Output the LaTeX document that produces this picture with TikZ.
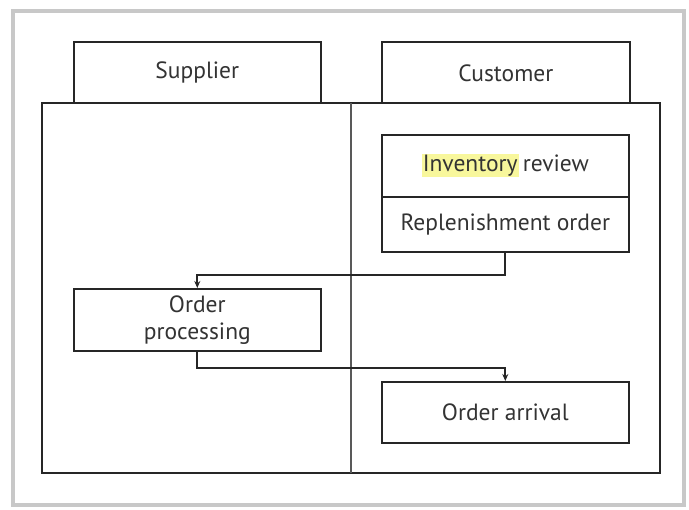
\documentclass[tikz,border=0pt]{standalone}
\usepackage{fontspec}
\usetikzlibrary{arrows.meta}
\setmainfont{PT Sans}
\definecolor{frame}{HTML}{C8C8C8}
\definecolor{hl}{HTML}{F8F79C}
\begin{document}
\begin{tikzpicture}[x=1pt,y=-1pt,
  box/.style={draw=black!85,line width=1.6pt,fill=white,align=center,text=black!80,font=\fontsize{23.5}{27}\selectfont},
  conn/.style={draw=black!85,line width=2pt,-{Stealth[length=7pt,width=6pt]}}]
\useasboundingbox (0,0) rectangle (689,510);
\fill[white] (0,0) rectangle (689,510);
\draw[frame,line width=3.5pt] (13,11) rectangle (684,505);
% tabs
\node[box,minimum width=247,minimum height=62,anchor=north west] (sup) at (73,41) {Supplier};
\node[box,minimum width=248,minimum height=62,anchor=north west] (cus) at (381,41) {Customer};
% main
\draw[black!85,line width=1.6pt,fill=white] (42,103) rectangle (660,473);
\coordinate (dtop) at (351,103);
\coordinate (dbot) at (351,473);
\draw[black!65,line width=1.2pt] (dtop) -- (dbot);
% boxes
\node[box,minimum width=247,minimum height=62,anchor=north west] (inv) at (381,134) {{\setlength{\fboxsep}{1pt}\colorbox{hl}{Inventory}}\hspace{-2pt} review};
\node[box,minimum width=247,minimum height=55,anchor=north west] (rep) at (381,196) {Replenishment order};
\node[box,minimum width=247,minimum height=62,anchor=north west] (proc) at (73,288) {Order\\processing};
\node[box,minimum width=247,minimum height=61,anchor=north west] (arr) at (381,381) {Order arrival};
% connectors
\draw[conn] (rep.south) -- ++(0,22) -| (proc.north);
\draw[conn] (proc.south) -- ++(0,16) -| (arr.north);
\end{tikzpicture}
\end{document}
